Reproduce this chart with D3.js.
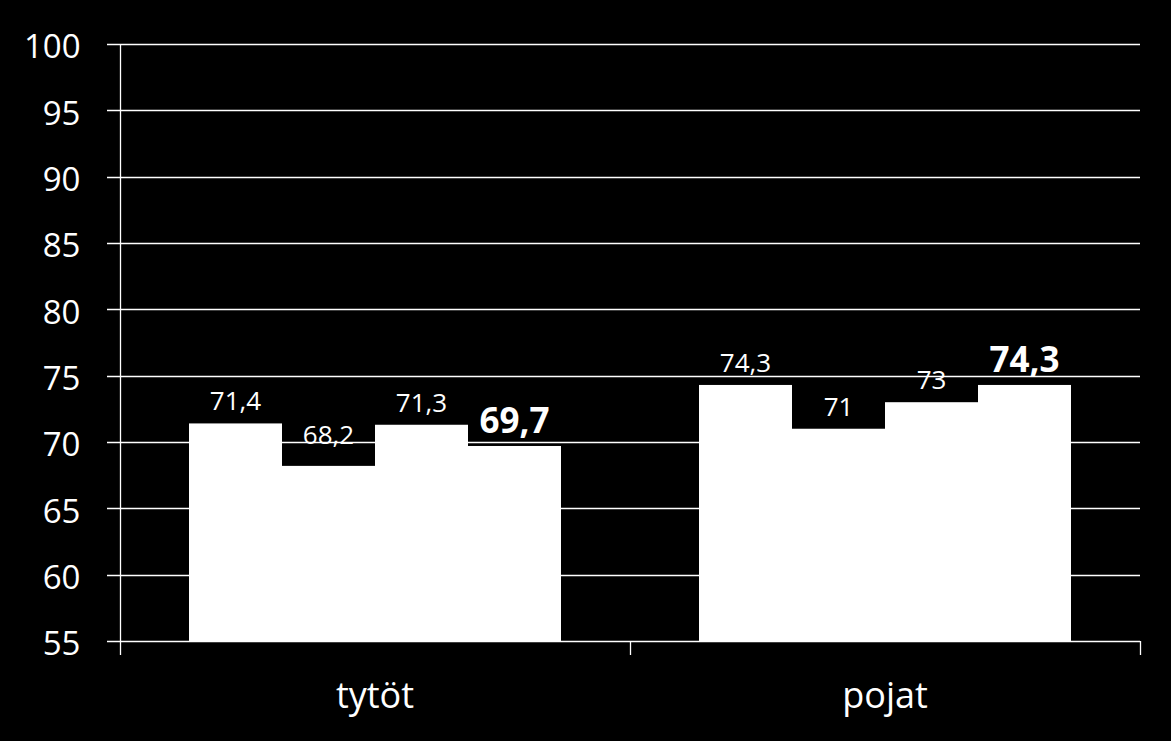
<!DOCTYPE html>
<html>
<head>
<meta charset="utf-8">
<script src="https://cdn.jsdelivr.net/npm/d3@7"></script>
<style>
  html, body { margin: 0; padding: 0; background: #000; }
  svg { display: block; }
</style>
</head>
<body>
<svg id="chart" width="1171" height="741"></svg>
<script>
// ---- data ----
const categories = ["tytöt", "pojat"];
const series = ["s1", "s2", "s3", "s4"];
const valuesTytot = [71.4, 68.2, 71.3, 69.7];
const valuesPojat = [74.3, 71, 73, 74.3];
const yTicks = [55, 60, 65, 70, 75, 80, 85, 90, 95, 100];
const boldSeries = "s4";

const values = { "tytöt": valuesTytot, "pojat": valuesPojat };

// ---- layout ----
const W = 1171, H = 741;
const m = { left: 120, right: 31, top: 44, bottom: 100 };
const svg = d3.select("#chart");
svg.append("rect").attr("width", W).attr("height", H).attr("fill", "#000");

const fontFam = "'Open Sans', 'Noto Sans', sans-serif";

const x0 = d3.scaleBand().domain(categories).range([m.left, W - m.right]).paddingInner(0).paddingOuter(0);
const groupPad = 69;
const x1 = d3.scaleBand().domain(series).range([0, x0.bandwidth() - 2 * groupPad]).padding(0);
const y = d3.scaleLinear().domain([55, 100]).range([641, 44]);

// gridlines
svg.append("g").selectAll("line").data(yTicks).join("line")
  .attr("x1", m.left - 13).attr("x2", W - m.right)
  .attr("y1", d => Math.round(y(d)) + 0.5).attr("y2", d => Math.round(y(d)) + 0.5)
  .attr("stroke", "#fff").attr("stroke-width", 1.3);

// y axis
const yAxis = d3.axisLeft(y).tickValues(yTicks).tickSize(0).tickPadding(40).tickFormat(d3.format("d"));
const gy = svg.append("g").attr("transform", `translate(${m.left + 0.5},0)`).call(yAxis);
gy.select(".domain").attr("stroke", "#fff").attr("stroke-width", 1.3).attr("d", `M0,${y(100)}V655`);
gy.selectAll("text").attr("fill", "#fff").attr("font-family", fontFam).attr("font-size", 33).attr("dy", "0.42em");

// x axis
const xAxis = d3.axisBottom(x0).tickSize(0).tickPadding(41);
const gx = svg.append("g").attr("transform", `translate(0,${y(55)})`).call(xAxis);
gx.select(".domain").remove();
gx.selectAll("text").attr("fill", "#fff").attr("font-family", fontFam).attr("font-size", 36);
// category separators
const seps = [x0.range()[0], ...categories.map(c => x0(c) + x0.bandwidth())];
svg.append("g").selectAll("line").data(seps.slice(1)).join("line")
  .attr("x1", d => d + 0.5).attr("x2", d => d + 0.5)
  .attr("y1", y(55)).attr("y2", 655)
  .attr("stroke", "#fff").attr("stroke-width", 1.3);

// bars
const groups = svg.append("g").selectAll("g").data(categories).join("g")
  .attr("transform", c => `translate(${x0(c) + groupPad},0)`);

groups.selectAll("rect").data(c => series.map((s, i) => ({ s, v: values[c][i], c, i }))).join("rect")
  .attr("x", d => x1(d.s)).attr("width", x1.bandwidth())
  .attr("y", d => y(d.v)).attr("height", d => y(55) - y(d.v))
  .attr("fill", "#fff");

// labels
const fmt = v => String(v).replace(".", ",");
groups.selectAll("text.lbl").data(c => series.map((s, i) => ({ s, v: values[c][i], c, i }))).join("text")
  .attr("class", "lbl")
  .attr("x", d => x1(d.s) + x1.bandwidth() / 2)
  .attr("y", d => y(d.v) - 13 - ((d.c === "tytöt" && d.i === 1) ? 9 : 0))
  .attr("text-anchor", "middle")
  .attr("fill", "#fff")
  .attr("font-family", fontFam)
  .attr("font-size", d => d.s === boldSeries ? 35 : 26)
  .attr("font-weight", d => d.s === boldSeries ? "bold" : "normal")
  .text(d => fmt(d.v));
</script>
</body>
</html>
